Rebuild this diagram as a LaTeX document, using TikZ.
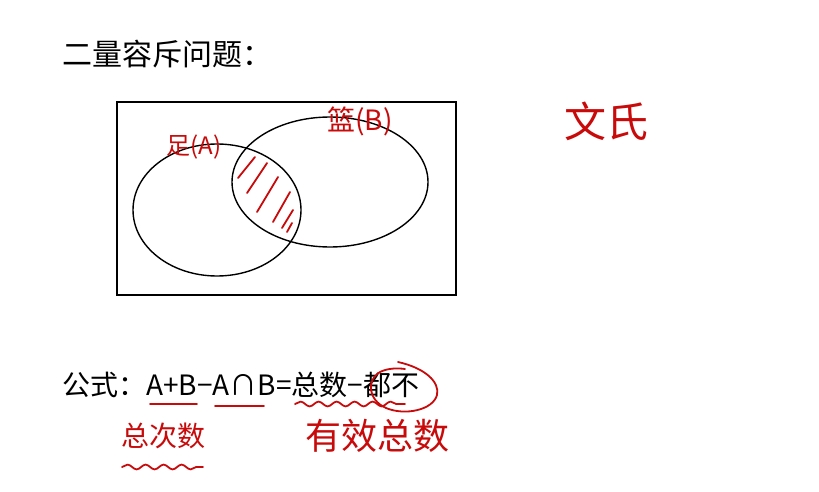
\documentclass[tikz,border=0pt]{standalone}
\usepackage{fontspec}
\setmainfont{Noto Sans CJK SC}
\usetikzlibrary{decorations.pathmorphing}
\definecolor{pen}{RGB}{200,10,10}
\begin{document}
\begin{tikzpicture}[x=0.5pt,y=-0.5pt,
  blackline/.style={draw=black, line width=0.7pt},
  penline/.style={draw=pen, line width=0.9pt, line cap=round, line join=round},
  hand/.style={text=pen, inner sep=0pt, anchor=west},
  wavy/.style={penline, decorate, decoration={snake, amplitude=1.2pt, segment length=9pt}}]
\useasboundingbox[fill=white] (0,0) rectangle (819,492);
% title
\node[anchor=west, inner sep=0pt, font=\fontsize{15}{15}\selectfont] (title) at (62,54) {二量容斥问题：};
% universe and sets
\draw[blackline] (117,102) rectangle (456,295);
\draw[blackline] (217,210) ellipse [x radius=84, y radius=66];
\draw[blackline] (330,182) ellipse [x radius=98, y radius=65];
% labels
\node[hand, font=\fontsize{12}{12}\selectfont] (la) at (166,147) {足(A)};
\node[hand, font=\fontsize{14}{14}\selectfont] (lb) at (327,121) {篮(B)};
\node[hand, font=\fontsize{21}{21}\selectfont] (wen) at (564,121) {文氏};
% hatch
\draw[penline] (255,157) -- (238,178);
\draw[penline] (267,163) -- (247,193);
\draw[penline] (278,177) -- (257,212);
\draw[penline] (290,192) -- (273,222);
\draw[penline] (293,210) -- (282,228);
\draw[penline] (292,223) -- (287,232);
% formula
\node[anchor=west, inner sep=0pt, font=\fontsize{14}{14}\selectfont] (formula) at (62,385) {公式：A+B−A∩B=总数−都不};
\draw[penline] (150,404) -- (197,404);
\draw[penline] (215,406) -- (264,406);
\draw[wavy] (295,404) -- (405,404);
\draw[penline] (398,362) .. controls (425,368) and (440,382) .. (437,395)
  .. controls (433,410) and (405,416) .. (386,408)
  .. controls (368,400) and (366,380) .. (380,372)
  .. controls (388,368) and (398,368) .. (405,369);
% annotations
\node[hand, font=\fontsize{14}{14}\selectfont] (total) at (121,436) {总次数};
\draw[wavy] (122,467) -- (203,467);
\node[hand, font=\fontsize{18}{18}\selectfont] (valid) at (305,436) {有效总数};
\end{tikzpicture}
\end{document}
